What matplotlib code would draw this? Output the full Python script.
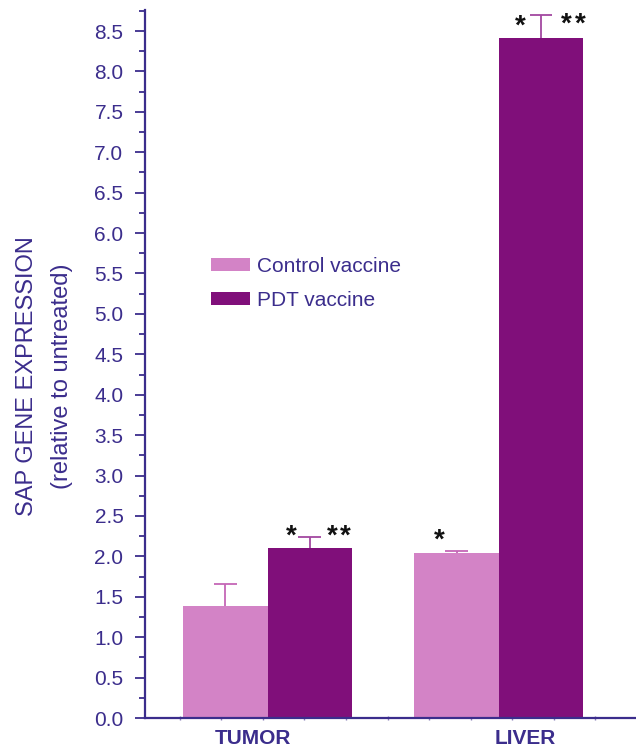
"""
SAP gene expression bar chart (tumor vs liver)
"""

import numpy as np
import matplotlib
matplotlib.use("Agg")
import matplotlib.pyplot as plt

plt.rcParams["font.family"] = ["Liberation Sans", "DejaVu Sans"]

# data
groups = ["TUMOR", "LIVER"]
series = ["Control vaccine", "PDT vaccine"]
control_vals = [1.38, 2.04]
control_err = [0.28, 0.03]
pdt_vals = [2.10, 8.41]
pdt_err = [0.14, 0.29]
# significance marks: (group index, series index, text, dx, dy)
marks = [
    (0, 1, "*", -0.38, 0.0),
    (0, 1, "**", 0.60, 0.0),
    (1, 0, "*", -0.35, 0.12),
    (1, 1, "*", -0.42, -0.15),
    (1, 1, "**", 0.66, -0.12),
]

TEXT = "#3b2d8c"
CONTROL = "#d383c6"
PDT = "#800f7a"
CONTROL_ERR = "#c567b6"
PDT_ERR = "#a348a0"

group_x = np.array([2.5, 7.22])
label_x = [2.2, 7.76]
width = 1.72
cap = 0.23
star_gap = 0.27

fig = plt.figure(figsize=(6.36, 7.47), dpi=100)
ax = fig.add_axes([145 / 636, 29 / 747, 490 / 636, 708 / 747])

vals = [control_vals, pdt_vals]
errs = [control_err, pdt_err]
colors = [CONTROL, PDT]
err_colors = [CONTROL_ERR, PDT_ERR]
offsets = [-width / 2, width / 2]

for i, name in enumerate(series):
    xs = group_x + offsets[i]
    v = np.array(vals[i])
    e = np.array(errs[i])
    ax.bar(xs, v, width=width, color=colors[i], label=name, zorder=2)
    # upper error bars only, cap at the top
    ax.vlines(xs, v, v + e, color=err_colors[i], linewidth=1.3, zorder=3)
    ax.hlines(v + e, xs - cap, xs + cap, color=err_colors[i],
              linewidth=1.3, zorder=3)

# asterisks (each star drawn separately so "**" gets a small gap)
for g, s, txt, dx, dy in marks:
    x = group_x[g] + offsets[s] + dx
    y = vals[s][g] + errs[s][g] + dy
    n = len(txt)
    for k in range(n):
        xk = x + (k - (n - 1) / 2) * star_gap
        ax.text(xk, y, "*", ha="center", va="center", fontsize=20,
                fontweight="bold", color="#111111")

# axes styling
ax.set_xlim(0, 10)
ax.set_ylim(0, 8.76)
ax.spines["top"].set_visible(False)
ax.spines["right"].set_visible(False)
for sp in ["left", "bottom"]:
    ax.spines[sp].set_color(TEXT)
    ax.spines[sp].set_linewidth(1.6)

ax.set_yticks(np.arange(0, 8.51, 0.5))
ax.set_yticklabels([f"{v:.1f}" for v in np.arange(0, 8.51, 0.5)])
ax.set_yticks(np.arange(0.25, 8.76, 0.5), minor=True)
ax.tick_params(axis="y", which="major", direction="out", length=7.5,
               width=1.3, color=TEXT, labelcolor=TEXT, labelsize=15, pad=8)
ax.tick_params(axis="y", which="minor", direction="out", length=4.5,
               width=1.3, color=TEXT)

ax.set_xticks(label_x)
ax.set_xticklabels(groups, fontweight="bold")
ax.set_xticks(np.arange(0.714, 9.5, 0.847), minor=True)
ax.tick_params(axis="x", which="major", length=0, labelcolor=TEXT,
               labelsize=15, pad=8)
ax.tick_params(axis="x", which="minor", direction="inout", length=2.5,
               width=1, color="#8a80b8")

# y label (two lines)
fig.text(27 / 636, 1 - 376 / 747, "SAP GENE EXPRESSION", rotation=90,
         ha="center", va="center", fontsize=17, color=TEXT)
fig.text(62 / 636, 1 - 376 / 747, "(relative to untreated)", rotation=90,
         ha="center", va="center", fontsize=17, color=TEXT)

# legend
leg = ax.legend(
    loc="upper left", bbox_to_anchor=(211 / 636, 1 - 257 / 747),
    bbox_transform=fig.transFigure, frameon=False, fontsize=15,
    handlelength=1.85, handleheight=0.62, handletextpad=0.35,
    labelspacing=0.7, borderpad=0, borderaxespad=0,
)
for t in leg.get_texts():
    t.set_color(TEXT)

plt.savefig("out.png", dpi=100)
